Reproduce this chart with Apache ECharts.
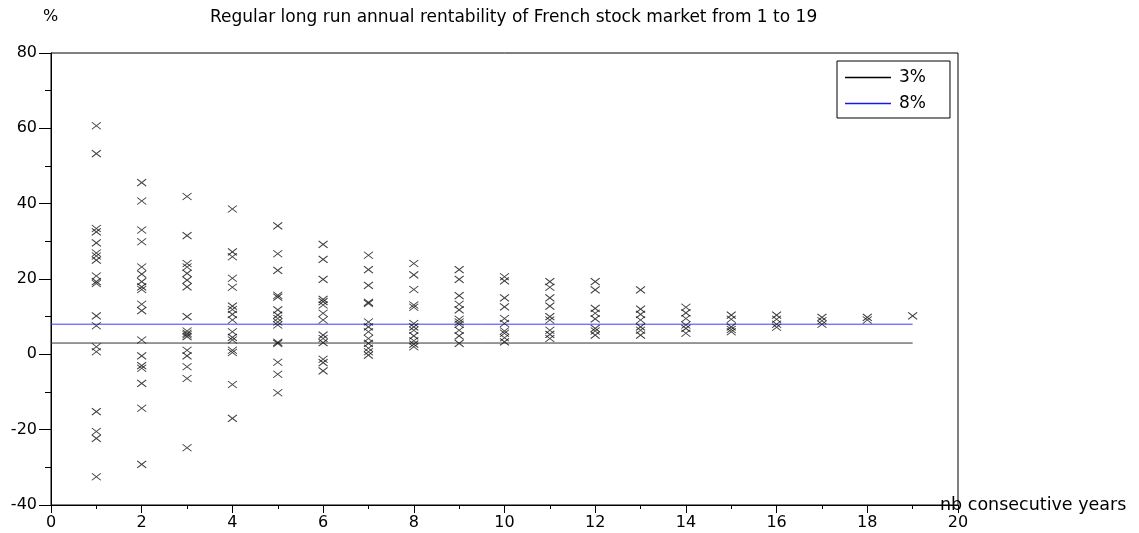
<!DOCTYPE html>
<html>
<head>
<meta charset="utf-8">
<script src="https://cdn.jsdelivr.net/npm/echarts@6/dist/echarts.min.js"></script>
<style>
  html, body { margin: 0; padding: 0; background: #fff; }
  #chart { width: 1139px; height: 533px; }
</style>
</head>
<body>
<div id="chart"></div>
<script>
// years held (x) and the annual rentability read for each period (y, %)
const years = [1, 2, 3, 4, 5, 6, 7, 8, 9, 10, 11, 12, 13, 14, 15, 16, 17, 18, 19];
const p1 = [60.7, 53.3, 33.4, 32.5, 29.6, 26.9, 26.1, 25.0, 20.8, 19.3, 18.8, 10.2, 7.6, 2.0, 0.7, -15.2, -20.5, -22.3, -32.5];
const p2 = [45.6, 40.7, 33.0, 29.9, 23.2, 21.3, 19.3, 17.9, 17.2, 13.3, 11.6, 3.8, -0.4, -3.0, -3.7, -7.7, -14.3, -29.2];
const p3 = [41.9, 31.5, 24.1, 23.2, 21.5, 19.7, 17.9, 10.0, 6.2, 5.6, 5.2, 4.7, 1.1, -0.4, -3.3, -6.4, -24.8];
const p4 = [38.6, 27.2, 25.9, 20.2, 17.8, 12.8, 11.9, 10.6, 9.1, 6.0, 4.5, 3.8, 1.1, 0.5, -8.0, -17.0];
const p5 = [34.1, 26.7, 22.3, 15.7, 15.2, 11.8, 10.4, 9.5, 8.6, 7.8, 3.2, 2.9, -2.1, -5.3, -10.2];
const p6 = [29.2, 25.2, 19.9, 14.6, 14.0, 13.1, 10.9, 9.1, 5.1, 4.2, 3.1, -1.3, -2.2, -4.4];
const p7 = [26.3, 22.5, 18.3, 13.8, 13.5, 8.6, 7.3, 6.0, 4.2, 2.9, 1.6, 0.7, -0.2];
const p8 = [24.1, 21.1, 17.2, 13.1, 12.5, 8.2, 7.3, 6.4, 4.9, 3.6, 2.7, 2.0];
const p9 = [22.5, 19.9, 15.6, 13.3, 11.8, 9.3, 8.6, 8.0, 6.4, 4.9, 2.9];
const p10 = [20.6, 19.5, 15.0, 12.6, 9.5, 8.2, 6.2, 5.6, 4.4, 3.3];
const p11 = [19.3, 17.8, 15.0, 12.8, 10.0, 9.1, 6.4, 5.3, 4.2];
const p12 = [19.3, 17.1, 12.2, 10.9, 9.4, 6.9, 6.2, 5.1];
const p13 = [17.1, 12.0, 10.6, 9.1, 7.3, 6.4, 5.1];
const p14 = [12.5, 11.0, 9.5, 7.8, 6.9, 5.6];
const p15 = [10.4, 9.3, 7.3, 6.6, 6.0];
const p16 = [10.4, 9.3, 8.0, 7.2];
const p17 = [9.8, 8.9, 8.0];
const p18 = [9.8, 9.1];
const p19 = [10.2];
const periods = [p1, p2, p3, p4, p5, p6, p7, p8, p9, p10, p11, p12, p13, p14, p15, p16, p17, p18, p19];

// reference levels
const levels = [3, 8];
const levelNames = ["3%", "8%"];
const levelColors = ["#333333", "#3a3aff"];
const legendColors = ["#000000", "#1a1ae6"];

const font = "'DejaVu Sans', 'Liberation Sans', Arial, sans-serif";

const points = [];
years.forEach(function (yr, i) {
  periods[i].forEach(function (v) {
    points.push([yr, v]);
  });
});

const chart = echarts.init(document.getElementById("chart"));

const levelSeries = levels.map(function (lv, i) {
  return {
    name: levelNames[i],
    type: "line",
    data: [[0, lv], [years[years.length - 1], lv]],
    symbol: "none",
    silent: true,
    z: 1,
    lineStyle: { color: levelColors[i], width: 1 },
    itemStyle: { color: levelColors[i] },
  };
});

chart.setOption({
  animation: false,
  backgroundColor: "#fff",
  title: [
    {
      text: "%",
      left: 38,
      top: 4,
      textStyle: { fontFamily: font, fontSize: 16, fontWeight: "normal", color: "#000" },
    },
    {
      text: "Regular long run annual rentability of French stock market from 1 to 19",
      left: 205,
      top: 4,
      textStyle: { fontFamily: font, fontSize: 17, fontWeight: "normal", color: "#000" },
    },
  ],
  legend: {
    orient: "vertical",
    left: 837,
    top: 61,
    padding: [8, 24, 6, 8],
    icon: "rect",
    itemWidth: 46,
    itemHeight: 1.5,
    itemGap: 9,
    borderColor: "#000",
    borderWidth: 1,
    data: levelNames.map(function (n, i) {
      return {
        name: n,
        itemStyle: { color: legendColors[i], borderWidth: 0 },
        lineStyle: { color: legendColors[i] },
      };
    }),
    textStyle: { fontFamily: font, fontSize: 17, lineHeight: 14, color: "#000", padding: [0, 0, 0, 3] },
  },
  grid: {
    left: 51,
    right: 181,
    top: 53,
    bottom: 28,
    show: true,
    borderColor: "#000",
    borderWidth: 1,
  },
  xAxis: {
    type: "value",
    min: 0,
    max: 20,
    interval: 2,
    name: "nb consecutive years",
    nameLocation: "end",
    nameGap: -18,
    nameTextStyle: { fontFamily: font, fontSize: 17.5, color: "#000", align: "left", verticalAlign: "middle", padding: [0, 0, 4, 0] },
    axisLine: { onZero: false, lineStyle: { color: "#000", width: 1 } },
    axisTick: { inside: false, length: 8, lineStyle: { color: "#000" } },
    minorTick: { show: true, splitNumber: 2, length: 4, lineStyle: { color: "#000" } },
    axisLabel: { margin: 10, fontFamily: font, fontSize: 16, color: "#000" },
    splitLine: { show: false },
  },
  yAxis: {
    type: "value",
    min: -40,
    max: 80,
    interval: 20,
    axisLine: { show: true, onZero: false, lineStyle: { color: "#000", width: 1 } },
    axisTick: { show: true, inside: false, length: 12, lineStyle: { color: "#000" } },
    minorTick: { show: true, splitNumber: 2, length: 6, lineStyle: { color: "#000" } },
    axisLabel: { margin: 14, fontFamily: font, fontSize: 16, color: "#000" },
    splitLine: { show: false },
  },
  series: levelSeries.concat([
    {
      name: "rentability",
      type: "scatter",
      data: points,
      symbol: "path://M0,0L10,7M0,7L10,0",
      symbolSize: [9, 7],
      silent: true,
      z: 3,
      itemStyle: { color: "transparent", borderColor: "#111", borderWidth: 1 },
    },
  ]),
});
</script>
</body>
</html>
